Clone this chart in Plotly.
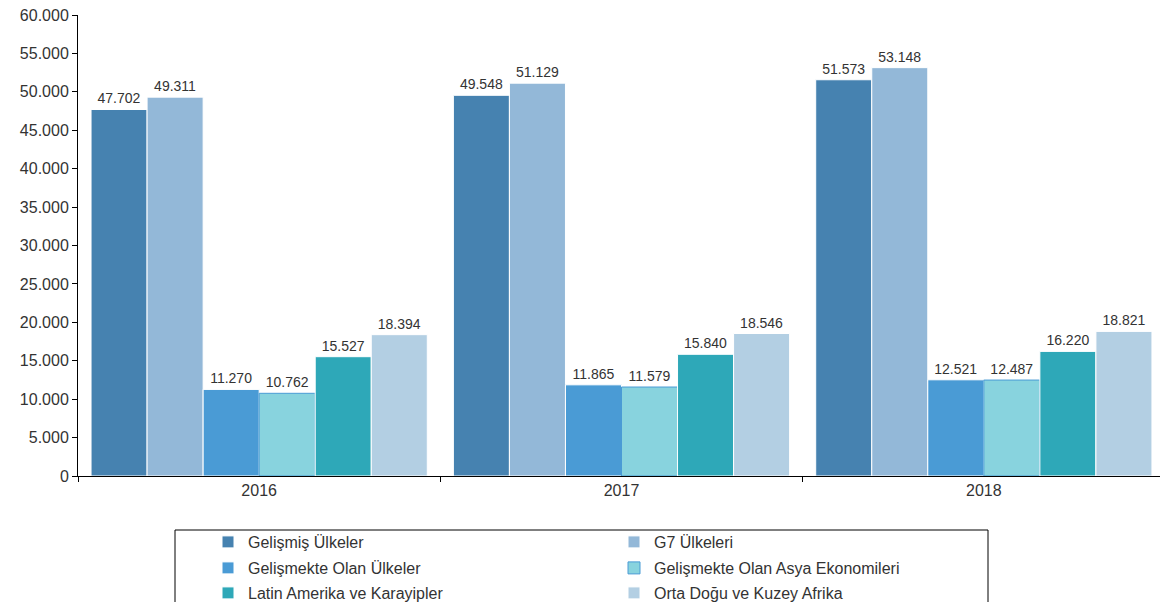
import plotly.graph_objects as go

years = ["2016", "2017", "2018"]
series_names = [
    "Gelişmiş Ülkeler",
    "G7 Ülkeleri",
    "Gelişmekte Olan Ülkeler",
    "Gelişmekte Olan Asya Ekonomileri",
    "Latin Amerika ve Karayipler",
    "Orta Doğu ve Kuzey Afrika",
]
gelismis = [47702, 49548, 51573]
g7 = [49311, 51129, 53148]
gelismekte = [11270, 11865, 12521]
asya = [10762, 11579, 12487]
latin = [15527, 15840, 16220]
ortadogu = [18394, 18546, 18821]

values = [gelismis, g7, gelismekte, asya, latin, ortadogu]
colors = ["#4682B0", "#93B8D8", "#4A9BD5", "#88D3DE", "#2EA8B8", "#B3CFE3"]
line_colors = ["#FFFFFF", "#FFFFFF", "#FFFFFF", "#4A9BD5", "#FFFFFF", "#FFFFFF"]
legend_ids = ["legend", "legend", "legend2", "legend2", "legend3", "legend3"]

FONT = "Liberation Sans, Arial"

fig = go.Figure()
for name, vals, c, lc, lg in zip(series_names, values, colors, line_colors, legend_ids):
    fig.add_trace(go.Bar(
        name=name, x=years, y=vals, legend=lg,
        marker=dict(color=c, line=dict(color=lc, width=1)),
        texttemplate="%{y:,}", textposition="outside",
        textfont=dict(family=FONT, size=14, color="#333333"),
        cliponaxis=False,
    ))

# page offset of 8px (default body margin); page coords below
OFF = 8
L0, R0, T0, B0 = 78, 1165, 15, 476
W = R0 - L0
H = B0 - T0


def legend_cfg(top_px):
    return dict(
        orientation="h", x=(208 - L0) / W, y=-(top_px - B0) / H,
        xanchor="left", yanchor="top",
        entrywidth=361, entrywidthmode="pixels",
        font=dict(family=FONT, size=16, color="#333333"),
        bgcolor="rgba(0,0,0,0)",
    )


fig.update_layout(
    width=1168 - OFF, height=602 - OFF,
    margin=dict(l=L0 - OFF, r=1168 - R0, t=T0 - OFF, b=602 - B0, autoexpand=False),
    paper_bgcolor="white", plot_bgcolor="white",
    separators=",.",
    barmode="group", bargap=0.072, bargroupgap=0,
    font=dict(family=FONT, size=14, color="#333333"),
    showlegend=True,
    legend=legend_cfg(525),
    legend2=legend_cfg(551),
    legend3=legend_cfg(576),
    xaxis=dict(
        showline=True, linecolor="black", linewidth=1,
        ticks="outside", tickson="boundaries", ticklen=5, tickcolor="black",
        tickfont=dict(family=FONT, size=16, color="#333333"),
        showgrid=False, automargin=False, ticklabeloverflow="allow",
    ),
    yaxis=dict(
        range=[0, 60000], dtick=5000, tickformat=",",
        showline=True, linecolor="black", linewidth=1,
        ticks="outside", ticklen=5, tickcolor="black",
        tickfont=dict(family=FONT, size=16, color="#333333"),
        showgrid=False, zeroline=False, automargin=False,
        ticklabeloverflow="allow",
    ),
    shapes=[dict(
        type="rect", xref="paper", yref="paper",
        x0=(175 - L0) / W, x1=(988 - L0) / W,
        y0=-(620 - B0) / H, y1=-(530 - B0) / H,
        line=dict(color="black", width=1), fillcolor="rgba(0,0,0,0)",
    )],
)

fig.write_html("out.html")
